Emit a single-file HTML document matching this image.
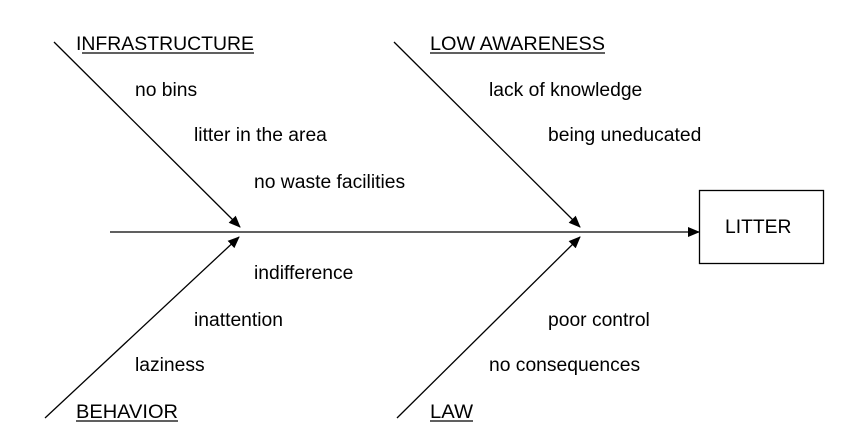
<!DOCTYPE html>
<html><head><meta charset="utf-8"><style>
html,body{margin:0;padding:0;background:#fff;}
svg{display:block;}
text{font-family:"Liberation Sans",Arial,sans-serif;font-size:19.3px;fill:#000;}
</style></head><body>
<svg width="862" height="446" viewBox="0 0 862 446" xmlns="http://www.w3.org/2000/svg">
<defs><marker id="a" markerWidth="12" markerHeight="10" refX="11" refY="5" orient="auto" markerUnits="userSpaceOnUse"><path d="M0,0 L12,5 L0,10 Z" fill="#000"/></marker></defs>
<g stroke="#000" stroke-width="1.3" fill="none">
<line x1="110" y1="232" x2="699" y2="232" marker-end="url(#a)"/>
<line x1="54" y1="42" x2="240" y2="227" marker-end="url(#a)"/>
<line x1="394" y1="42" x2="580" y2="227" marker-end="url(#a)"/>
<line x1="45" y1="418" x2="239" y2="237" marker-end="url(#a)"/>
<line x1="397" y1="418" x2="580" y2="237" marker-end="url(#a)"/>
<rect x="699.5" y="190.5" width="124" height="73"/>
</g>
<text x="76" y="50" textLength="178" lengthAdjust="spacingAndGlyphs">INFRASTRUCTURE</text>
<line x1="82" y1="53" x2="254" y2="53" stroke="#000" stroke-width="1.3"/>
<text x="135" y="96">no bins</text>
<text x="194" y="141">litter in the area</text>
<text x="254" y="188">no waste facilities</text>
<text x="430" y="50" textLength="175" lengthAdjust="spacingAndGlyphs">LOW AWARENESS</text>
<line x1="430" y1="53" x2="605" y2="53" stroke="#000" stroke-width="1.3"/>
<text x="489" y="96">lack of knowledge</text>
<text x="548" y="141">being uneducated</text>
<text x="725" y="233">LITTER</text>
<text x="254" y="279">indifference</text>
<text x="194" y="326">inattention</text>
<text x="135" y="371">laziness</text>
<text x="76" y="418" textLength="102" lengthAdjust="spacingAndGlyphs">BEHAVIOR</text>
<line x1="76" y1="421" x2="178" y2="421" stroke="#000" stroke-width="1.3"/>
<text x="548" y="326">poor control</text>
<text x="489" y="371">no consequences</text>
<text x="430" y="418" textLength="43" lengthAdjust="spacingAndGlyphs">LAW</text>
<line x1="430" y1="421" x2="473" y2="421" stroke="#000" stroke-width="1.3"/>
</svg>
</body></html>
